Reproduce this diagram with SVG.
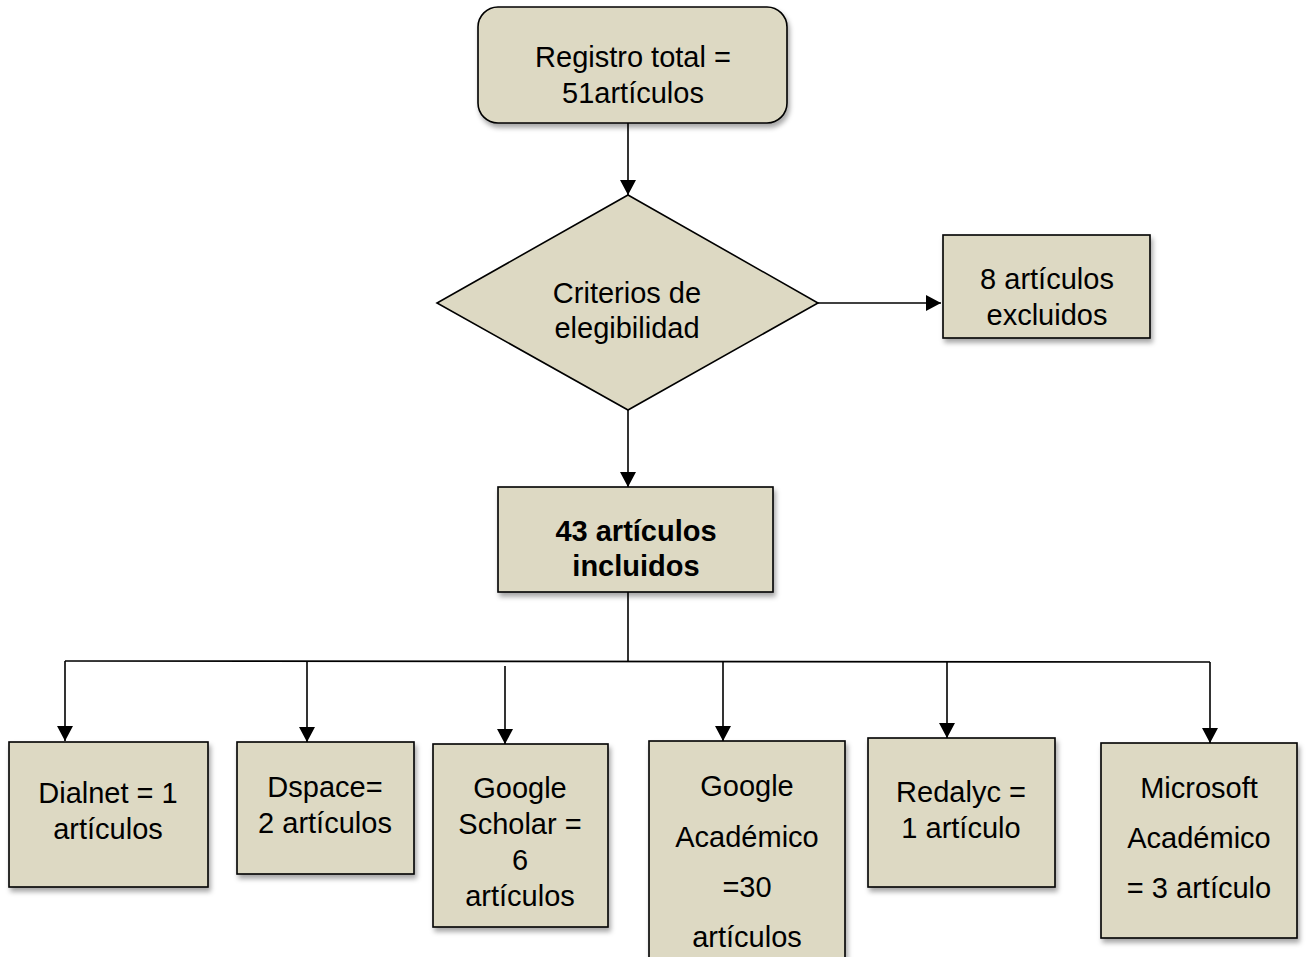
<svg xmlns="http://www.w3.org/2000/svg" width="1307" height="957" viewBox="0 0 1307 957">
<style>
.box{fill:#ddd9c3;stroke:#000;stroke-width:1.6;filter:url(#sh)}
.dia{fill:#ddd9c3;stroke:#000;stroke-width:1.6}
.t{font-family:"Liberation Sans",Arial,sans-serif;font-size:29px;fill:#000;text-anchor:middle}
.b{font-weight:bold}
.c{fill:none;stroke:#000;stroke-width:1.6}
.a{marker-end:url(#arr)}
</style>
<defs>
<filter id="sh" x="-10%" y="-10%" width="125%" height="130%">
<feDropShadow dx="2" dy="4" stdDeviation="2.5" flood-color="#000" flood-opacity="0.35"/>
</filter>
<marker id="arr" markerUnits="userSpaceOnUse" markerWidth="16" markerHeight="16" refX="15" refY="8" orient="auto">
<path d="M0,0 L15,8 L0,16 Z" fill="#000"/>
</marker>
</defs>
<rect width="1307" height="957" fill="#fff"/>
<g id="connectors">
<line class="c a" x1="628" y1="115" x2="628" y2="195"/>
<line class="c a" x1="818" y1="303" x2="941" y2="303"/>
<line class="c a" x1="628" y1="410" x2="628" y2="487"/>
<polyline class="c" points="628,592 628,661"/>
<line class="c" x1="65" y1="661" x2="1210" y2="662"/>
<line class="c a" x1="65" y1="661" x2="65" y2="741"/>
<line class="c a" x1="307" y1="662" x2="307" y2="742"/>
<line class="c a" x1="505" y1="666" x2="505" y2="744"/>
<line class="c a" x1="723" y1="662" x2="723" y2="741"/>
<line class="c a" x1="947" y1="662" x2="947" y2="738"/>
<line class="c a" x1="1210" y1="662" x2="1210" y2="743"/>
</g>
<g id="registro">
<rect class="box" x="478" y="7" width="309" height="116" rx="20"/>
<text class="t" x="633" y="67">Registro total =</text>
<text class="t" x="633" y="103">51artículos</text>
</g>
<g id="criterios">
<polygon class="dia" points="628,195 818,303 628,410 437,303"/>
<text class="t" x="627" y="303">Criterios de</text>
<text class="t" x="627" y="338">elegibilidad</text>
</g>
<g id="excluidos">
<rect class="box" x="943" y="235" width="207" height="103"/>
<text class="t" x="1047" y="289">8 artículos</text>
<text class="t" x="1047" y="325">excluidos</text>
</g>
<g id="incluidos">
<rect class="box" x="498" y="487" width="275" height="105"/>
<text class="t b" x="636" y="541">43 artículos</text>
<text class="t b" x="636" y="576">incluidos</text>
</g>
<g id="dialnet">
<rect class="box" x="9" y="742" width="199" height="145"/>
<text class="t" x="108" y="803">Dialnet = 1</text>
<text class="t" x="108" y="839">artículos</text>
</g>
<g id="dspace">
<rect class="box" x="237" y="742" width="177" height="132"/>
<text class="t" x="325" y="797">Dspace=</text>
<text class="t" x="325" y="833">2 artículos</text>
</g>
<g id="scholar">
<rect class="box" x="433" y="744" width="175" height="183"/>
<text class="t" x="520" y="798">Google</text>
<text class="t" x="520" y="834">Scholar =</text>
<text class="t" x="520" y="870">6</text>
<text class="t" x="520" y="906">artículos</text>
</g>
<g id="academico">
<rect class="box" x="649" y="741" width="196" height="230"/>
<text class="t" x="747" y="796">Google</text>
<text class="t" x="747" y="847">Académico</text>
<text class="t" x="747" y="897">=30</text>
<text class="t" x="747" y="947">artículos</text>
</g>
<g id="redalyc">
<rect class="box" x="868" y="738" width="187" height="149"/>
<text class="t" x="961" y="802">Redalyc =</text>
<text class="t" x="961" y="838">1 artículo</text>
</g>
<g id="microsoft">
<rect class="box" x="1101" y="743" width="196" height="195"/>
<text class="t" x="1199" y="798">Microsoft</text>
<text class="t" x="1199" y="848">Académico</text>
<text class="t" x="1199" y="898">= 3 artículo</text>
</g>
</svg>
